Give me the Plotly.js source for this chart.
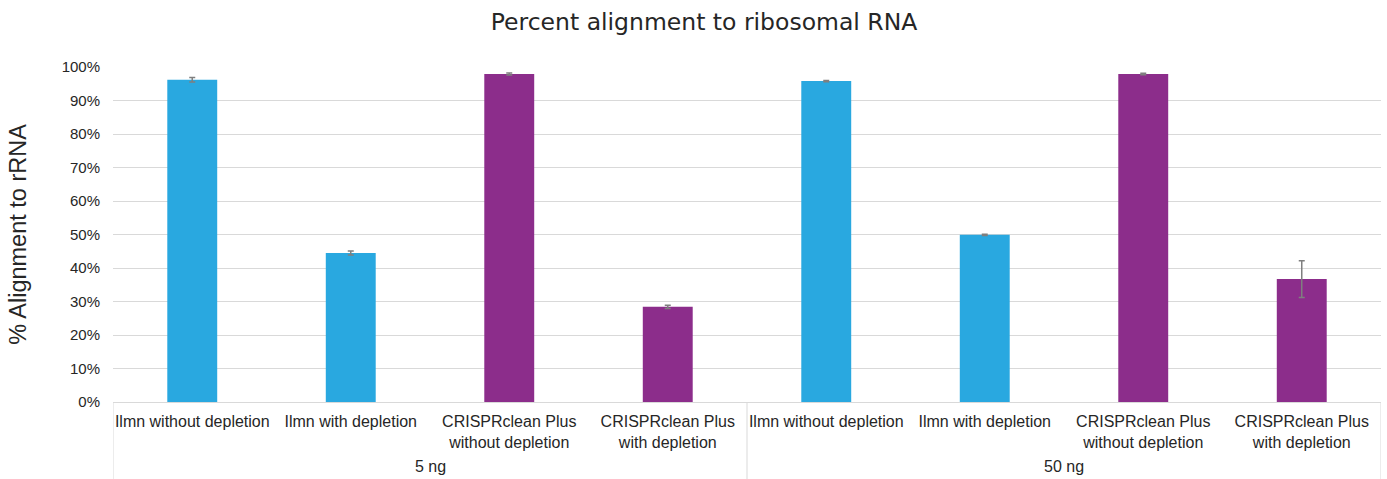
<!DOCTYPE html>
<html>
<head>
<meta charset="utf-8">
<script src="https://cdn.plot.ly/plotly-3.0.1.min.js"></script>
<style>html,body{margin:0;padding:0;background:#fff}#chart{width:1387px;height:479px}</style>
</head>
<body>
<div id="chart"></div>
<script>
const groups = ['5 ng','5 ng','5 ng','5 ng','50 ng','50 ng','50 ng','50 ng'];
const categories = ['Ilmn without depletion','Ilmn with depletion','CRISPRclean Plus<br>without depletion','CRISPRclean Plus<br>with depletion',
                    'Ilmn without depletion','Ilmn with depletion','CRISPRclean Plus<br>without depletion','CRISPRclean Plus<br>with depletion'];
const values = [96.2, 44.5, 97.9, 28.4, 95.8, 49.9, 97.9, 36.7];
const errors = [0.7, 0.6, 0.3, 0.5, 0.2, 0.2, 0.2, 5.5];
const methods = ['Ilmn','Ilmn','CRISPRclean','CRISPRclean','Ilmn','Ilmn','CRISPRclean','CRISPRclean'];
const methodColors = {Ilmn:'#29a8e0', CRISPRclean:'#8c2d8b'};

const positions = categories.map((_, i) => i);

// group spans derived from the groups array
const groupSpans = [];
groups.forEach((g, i) => {
  const last = groupSpans[groupSpans.length - 1];
  if (last && last.name === g) last.end = i; else groupSpans.push({name: g, start: i, end: i});
});

const labelFont = {family:'Liberation Sans, Arial, sans-serif', size:16, color:'#262626'};
const gridColor = '#d9d9d9';
const axisDepth = -77/335;   // divider length below the plot, in plot-height units

const annotations = groupSpans.map(s => ({
  text: s.name, xref:'x', yref:'paper', x:(s.start + s.end)/2, y:-65/335,
  xanchor:'center', yanchor:'middle', showarrow:false, font: labelFont
}));
const boundaries = [groupSpans[0].start - 0.5].concat(groupSpans.map(s => s.end + 0.5));
const shapes = boundaries.map(b => ({
  type:'line', xref:'x', yref:'paper', x0:b, x1:b, y0:0, y1:axisDepth,
  line:{color:gridColor, width:1}
}));

const trace = {
  type:'bar',
  x:positions,
  y:values,
  marker:{color:methods.map(m=>methodColors[m])},
  error_y:{type:'data', array:errors, visible:true, color:'#7f7f7f', thickness:1.5, width:3},
  hoverinfo:'y'
};

const layout = {
  width:1387, height:479,
  margin:{l:113, r:6, t:67, b:77},
  paper_bgcolor:'#fff', plot_bgcolor:'#fff',
  showlegend:false,
  bargap:0.685,
  title:{text:'Percent alignment to ribosomal RNA', x:0.5076, xref:'container', xanchor:'center', y:0.955, yref:'container', yanchor:'middle',
         font:{family:'DejaVu Sans, Verdana, sans-serif', size:23.5, color:'#262626'}},
  xaxis:{range:[-0.5, categories.length - 0.5], tickmode:'array', tickvals:positions, ticktext:categories,
         showgrid:false, zeroline:false, showline:true, linecolor:gridColor, linewidth:1,
         ticks:'', tickangle:0, ticklabelstandoff:5, tickfont:labelFont},
  yaxis:{range:[0,100], dtick:10, ticksuffix:'%', showgrid:true, gridcolor:gridColor, gridwidth:1,
         zeroline:false, showline:false, ticks:'', ticklabelstandoff:12,
         tickfont:{family:'Liberation Sans, Arial, sans-serif', size:15, color:'#262626'},
         title:{text:'% Alignment to rRNA', standoff:28, font:{family:'Liberation Sans, Arial, sans-serif', size:23.5, color:'#262626'}}},
  annotations: annotations,
  shapes: shapes
};

Plotly.newPlot('chart',[trace],layout,{displayModeBar:false, staticPlot:true});
</script>
</body>
</html>
